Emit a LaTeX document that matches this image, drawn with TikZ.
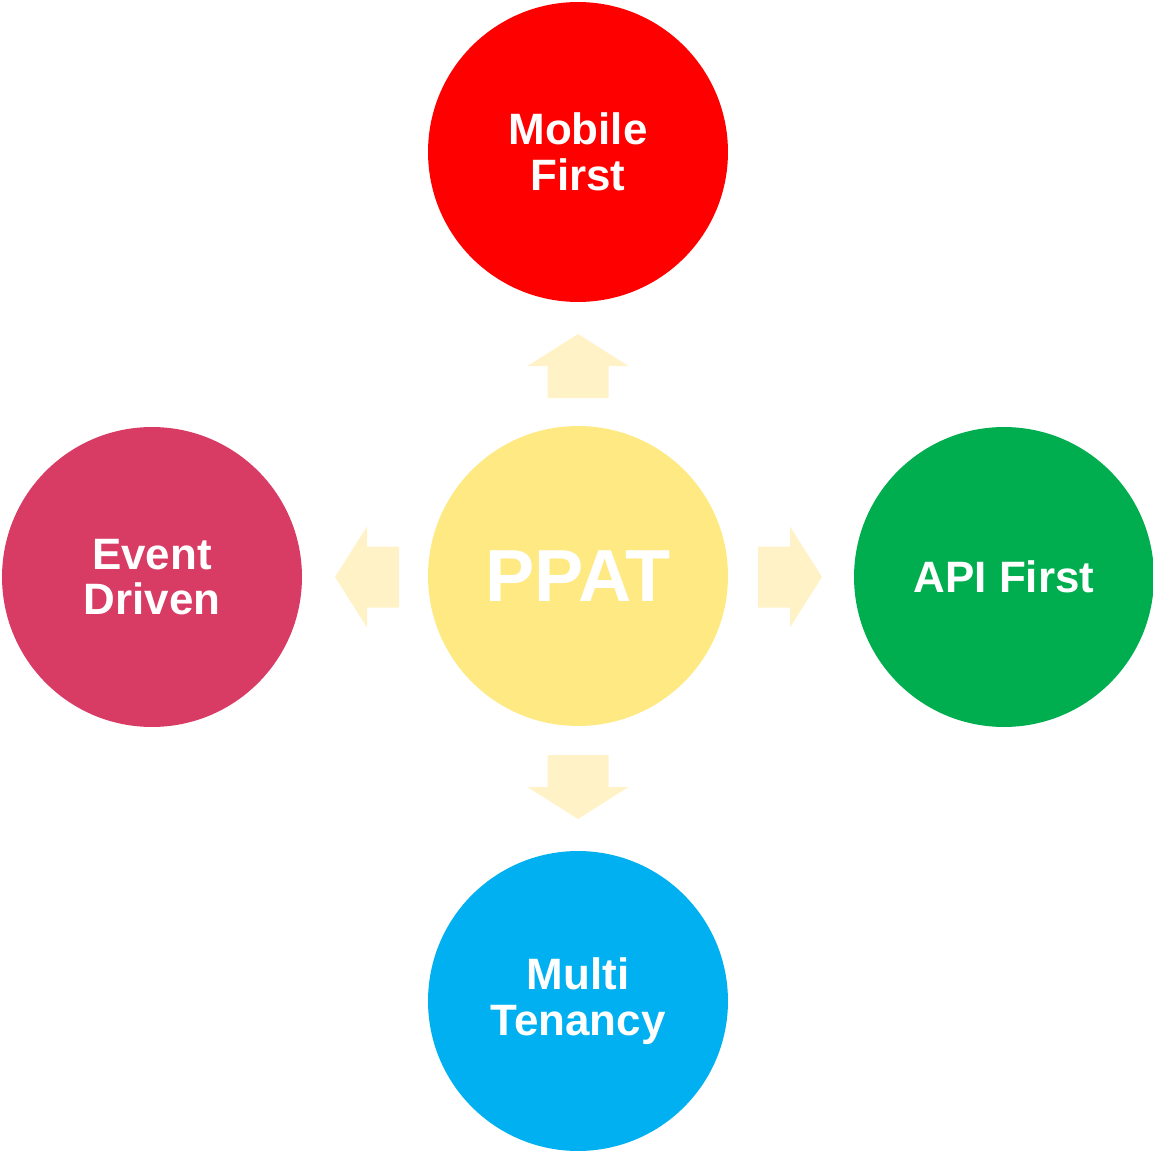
\documentclass[tikz,border=0pt]{standalone}
\usepackage{fontspec}
\setmainfont{Liberation Sans}
\definecolor{mobilered}{HTML}{FF0000}
\definecolor{eventpink}{HTML}{D83B63}
\definecolor{ppatyellow}{HTML}{FEE982}
\definecolor{apigreen}{HTML}{00AE4F}
\definecolor{tenancyblue}{HTML}{00B0F0}
\definecolor{arrowfill}{HTML}{FFF2C6}
\tikzset{
    bubble/.style={circle,minimum size=6cm,inner sep=0pt,text=white,align=center,
        font=\bfseries\fontsize{25}{26}\selectfont},
    blockarrow/.pic={
        \fill[arrowfill] (-30.5,0) -- (-30.5,-32) -- (-50.5,-32) -- (0,-64)
            -- (50.5,-32) -- (30.5,-32) -- (30.5,0) -- cycle;
    }
}
\begin{document}
\begin{tikzpicture}[x=0.02cm,y=-0.02cm]
    \useasboundingbox (0,0) rectangle (1153,1152);

    \node[bubble,fill=ppatyellow,font=\bfseries\fontsize{42}{42}\selectfont] (ppat) at (578,576) {PPAT};
    \node[bubble,fill=mobilered] (mobile) at (578,152) {Mobile\\First};
    \node[bubble,fill=eventpink] (event) at (152,577) {Event\\Driven};
    \node[bubble,fill=apigreen] (api) at (1004,577) {API First};
    \node[bubble,fill=tenancyblue] (tenancy) at (578,1001) {Multi\\Tenancy};

    \pic at (578,398) {blockarrow};
    \pic[rotate=-90] at (758,577) {blockarrow};
    \pic[rotate=180] at (578,755) {blockarrow};
    \pic[rotate=90] at (399,577) {blockarrow};
\end{tikzpicture}
\end{document}
